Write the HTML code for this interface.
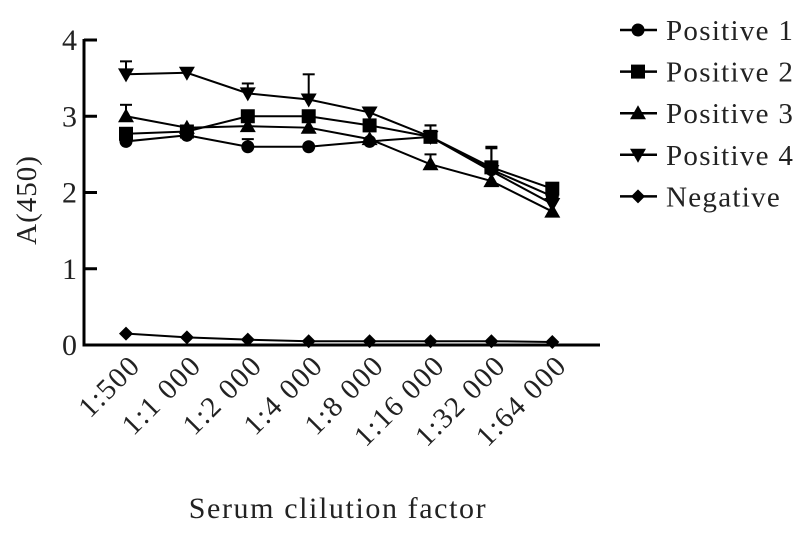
<!DOCTYPE html>
<html><head><meta charset="utf-8"><style>
body{margin:0;background:#fff}
svg{display:block}
text{font-family:"Liberation Serif",serif;fill:#222}
</style></head><body>
<svg id="chart" width="812" height="541" xmlns="http://www.w3.org/2000/svg">
<g id="axes"></g><g id="series"></g><g id="legend"></g>
<text transform="translate(36,200) rotate(-90)" text-anchor="middle" font-size="29" letter-spacing="1">A(450)</text>
<text x="338" y="518" text-anchor="middle" font-size="30" letter-spacing="1.6">Serum clilution factor</text>
</svg>
<script>
const categories=["1:500","1:1 000","1:2 000","1:4 000","1:8 000","1:16 000","1:32 000","1:64 000"];
const yTicks=[0,1,2,3,4];
const seriesNames=["Positive 1","Positive 2","Positive 3","Positive 4","Negative"];
const markers=["circle","square","triangle","tridown","diamond"];
const p1=[2.67,2.75,2.6,2.6,2.67,2.73,2.3,1.95];
const p2=[2.77,2.8,3.0,3.0,2.88,2.73,2.33,2.05];
const p3=[3.0,2.85,2.87,2.85,2.7,2.37,2.15,1.75];
const p4=[3.55,3.57,3.3,3.22,3.05,2.73,2.28,1.85];
const neg=[0.15,0.1,0.07,0.05,0.05,0.05,0.05,0.04];
const p1Err=[0,0,0.1,0,0,0,0,0];
const p2Err=[0.05,0,0,0,0,0.15,0.27,0];
const p3Err=[0.15,0,0,0,0,0.13,0,0];
const p4Err=[0.17,0,0.13,0.33,0.05,0.15,0.3,0];
const values=[p1,p2,p3,p4,neg];
const errs=[p1Err,p2Err,p3Err,p4Err,null];

const NS="http://www.w3.org/2000/svg";
const X0=126,DX=60.9,Y0=345,YS=76.25,AX=84;
const xs=i=>X0+i*DX, ys=v=>Y0-v*YS;
function mk(tag,attrs,parent){const e=document.createElementNS(NS,tag);for(const k in attrs)e.setAttribute(k,attrs[k]);parent.appendChild(e);return e;}
const axes=document.getElementById('axes'),ser=document.getElementById('series'),leg=document.getElementById('legend');
let e=mk('line',{x1:AX,y1:ys(4)-1,x2:AX,y2:Y0+1.5,stroke:'#000','stroke-width':3},axes);


e=mk('line',{x1:AX-1.5,y1:Y0,x2:600,y2:Y0,stroke:'#000','stroke-width':3},axes);


yTicks.forEach(t=>{
 let l=mk('line',{x1:AX,y1:ys(t),x2:AX+13,y2:ys(t),stroke:'#000','stroke-width':3},axes);
 
 
 let tx=mk('text',{x:77,y:ys(t)+10,'text-anchor':'end','font-size':30},axes);tx.textContent=t;
 
 
});
categories.forEach((c,i)=>{
 let tx=mk('text',{transform:`translate(${xs(i)+16},${Y0+22}) rotate(-45)`,'text-anchor':'end','font-size':29,'letter-spacing':1.5},axes);tx.textContent=c;
 
 
});
function marker(type,x,y,parent){
 const s=7;let m;
 if(type==='circle')m=mk('circle',{cx:x,cy:y,r:6.5},parent);
 else if(type==='square')m=mk('rect',{x:x-s,y:y-s,width:2*s,height:2*s},parent);
 else if(type==='triangle')m=mk('polygon',{points:`${x},${y-8} ${x-8},${y+6} ${x+8},${y+6}`},parent);
 else if(type==='tridown')m=mk('polygon',{points:`${x},${y+8} ${x-8},${y-6} ${x+8},${y-6}`},parent);
 else m=mk('polygon',{points:`${x},${y-7} ${x+7},${y} ${x},${y+7} ${x-7},${y}`},parent);
 m.setAttribute('fill','#000');return m;
}
values.forEach((vals,si)=>{
 const g=mk('g',{},ser);
 
 
 const er=errs[si];
 if(er)vals.forEach((v,i)=>{if(er[i]>0){
  let a=mk('line',{x1:xs(i),y1:ys(v),x2:xs(i),y2:ys(v+er[i]),stroke:'#000','stroke-width':2},g);
  
  
  mk('line',{x1:xs(i)-6,y1:ys(v+er[i]),x2:xs(i)+6,y2:ys(v+er[i]),stroke:'#000','stroke-width':2},g);
 }});
 let p=mk('polyline',{points:vals.map((v,i)=>xs(i)+','+ys(v)).join(' '),fill:'none',stroke:'#000','stroke-width':2},g);
 
 
 vals.forEach((v,i)=>{let m=marker(markers[si],xs(i),ys(v),g);
  
  });
});
seriesNames.forEach((n,i)=>{
 const y=30+i*41.6;
 const g=mk('g',{},leg);
 
 
 mk('line',{x1:620,y1:y,x2:657,y2:y,stroke:'#000','stroke-width':2.5},g);
 marker(markers[i],638,y,g);
 let t=mk('text',{x:666,y:y+10,'font-size':29,'letter-spacing':1.3},g);t.textContent=n;
});
</script>
</body></html>
